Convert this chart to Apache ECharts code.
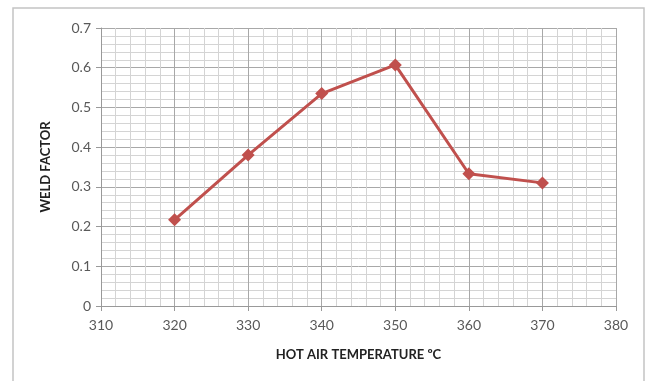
<!DOCTYPE html>
<html>
<head>
<meta charset="utf-8">
<script src="https://cdn.jsdelivr.net/npm/echarts@6/dist/echarts.min.js"></script>
<style>
html,body{margin:0;padding:0;background:#fff;}
#c{width:649px;height:381px;}
</style>
</head>
<body>
<div id="c"></div>
<script>
const temperatures = [320, 330, 340, 350, 360, 370];
const weldFactor = [0.217, 0.380, 0.535, 0.607, 0.333, 0.310];
const xTitle = 'HOT AIR TEMPERATURE ºC';
const yTitle = 'WELD FACTOR';

const chart = echarts.init(document.getElementById('c'), null, {renderer: 'canvas'});
const font = 'Lato, "Open Sans", sans-serif';
chart.setOption({
  animation: false,
  backgroundColor: '#fff',
  graphic: [{
    type: 'rect', shape: {x: 13, y: 8, width: 631, height: 400},
    style: {fill: 'none', stroke: '#c4c4c4', lineWidth: 1.5}, silent: true
  }],
  grid: {left: 101, right: 33, top: 28, bottom: 75},
  xAxis: {
    type: 'value', min: 310, max: 380, interval: 10,
    name: xTitle, nameLocation: 'middle', nameGap: 42,
    nameTextStyle: {fontFamily: font, fontSize: 13, fontWeight: 'bold', color: '#222'},
    axisLine: {show: true, lineStyle: {color: '#999', width: 1}},
    axisTick: {show: true, length: 5, lineStyle: {color: '#999'}},
    axisLabel: {fontFamily: font, fontSize: 14, color: '#595959', margin: 12},
    splitLine: {show: true, lineStyle: {color: '#a8a8a8', width: 1}},
    minorTick: {show: false, splitNumber: 5},
    minorSplitLine: {show: true, lineStyle: {color: '#d4d4d4', width: 1}}
  },
  yAxis: {
    type: 'value', min: 0, max: 0.7, interval: 0.1,
    name: yTitle, nameLocation: 'middle', nameGap: 49, nameRotate: 90,
    nameTextStyle: {fontFamily: font, fontSize: 13, fontWeight: 'bold', color: '#222'},
    axisLine: {show: true, lineStyle: {color: '#999', width: 1}},
    axisTick: {show: true, length: 5, lineStyle: {color: '#999'}},
    axisLabel: {fontFamily: font, fontSize: 14, color: '#595959', margin: 10},
    splitLine: {show: true, lineStyle: {color: '#a8a8a8', width: 1}},
    minorTick: {show: false, splitNumber: 5},
    minorSplitLine: {show: true, lineStyle: {color: '#d4d4d4', width: 1}}
  },
  series: [{
    type: 'line',
    data: temperatures.map((t, i) => [t, weldFactor[i]]),
    symbol: 'diamond', symbolSize: 13,
    lineStyle: {color: '#c0504d', width: 3},
    itemStyle: {color: '#c0504d'}
  }]
});
</script>
</body>
</html>
